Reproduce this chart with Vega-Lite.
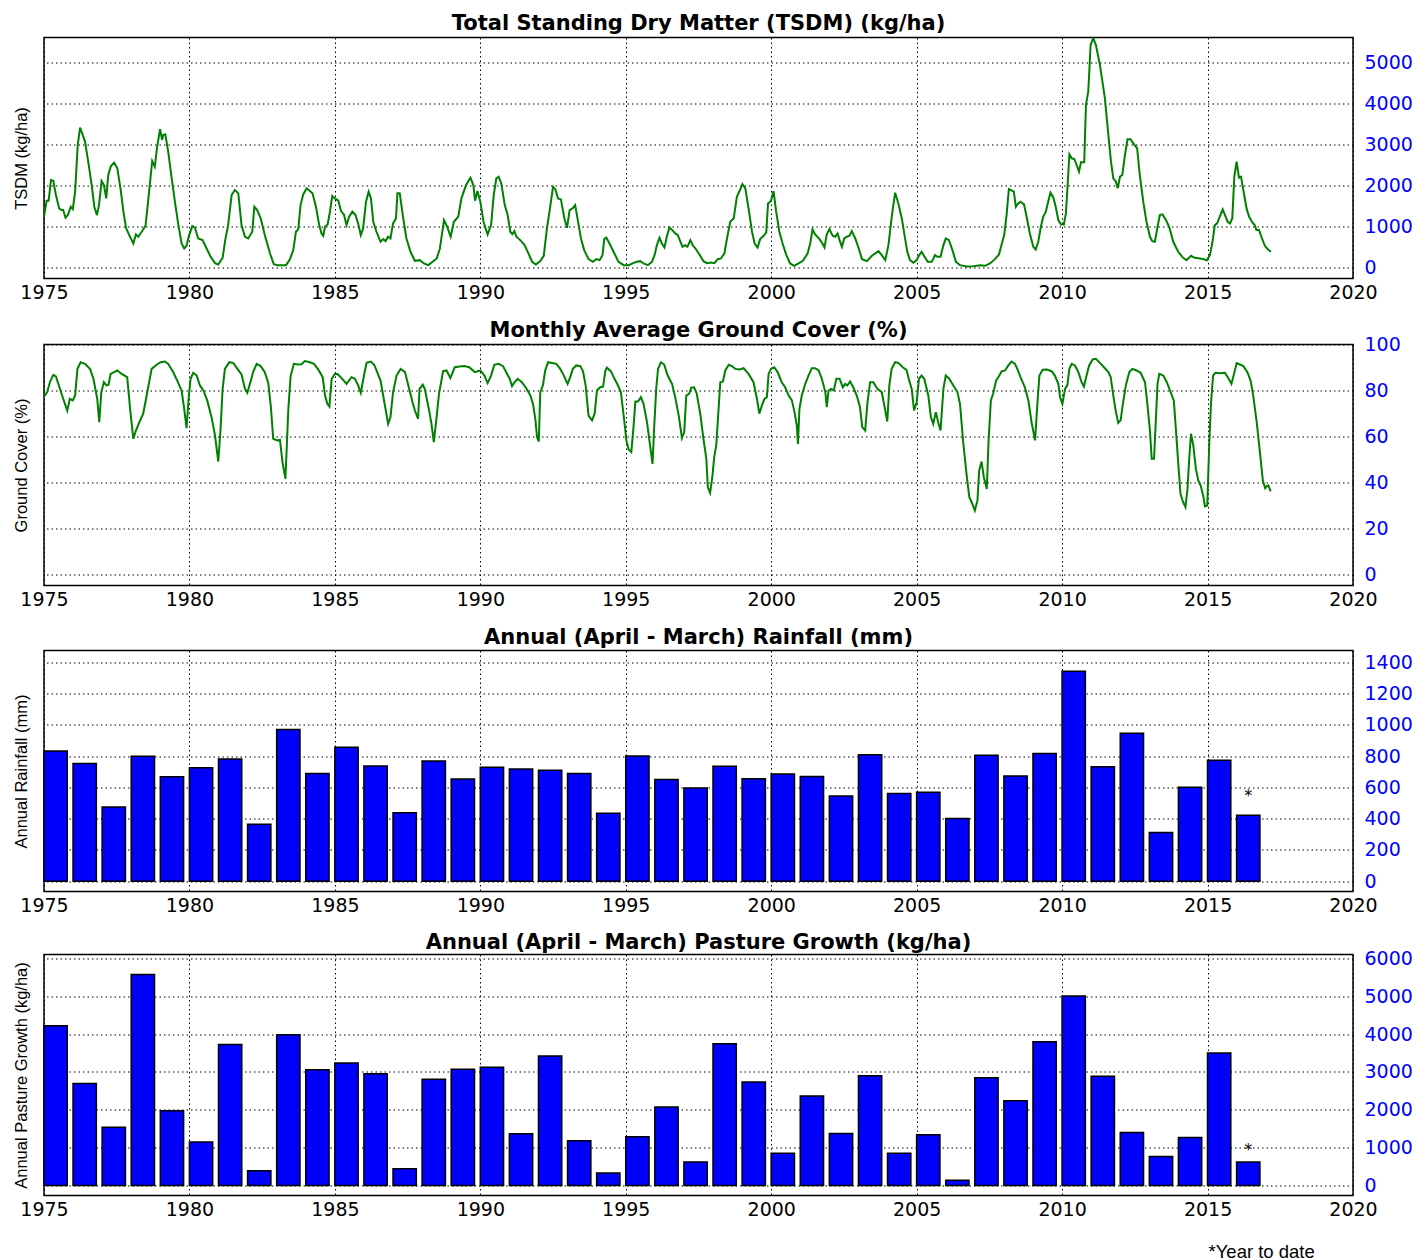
{
  "$schema": "https://vega.github.io/schema/vega-lite/v6.json",
  "background": "white",
  "padding": {"left": 12, "top": 11.5, "right": 5, "bottom": 0},
  "spacing": 15,
  "config": {
    "view": {"stroke": "black", "strokeWidth": 1.5},
    "scale": {"continuousPadding": 0},
    "title": {"font": "DejaVu Sans", "fontWeight": "bold", "fontSize": 21, "color": "black", "offset": 9, "baseline": "alphabetic", "frame": "group", "anchor": "middle"},
    "axis": {"grid": true, "gridColor": "black", "gridDash": [1.5, 3], "gridWidth": 1, "gridOpacity": 1, "ticks": false, "domain": false, "labelFlush": false, "labelOverlap": false, "labelFont": "DejaVu Sans", "labelFontSize": 19},
    "axisX": {"labelColor": "black", "labelPadding": 4.5, "format": "d"},
    "axisY": {"orient": "right", "labelColor": "#0000ff", "labelPadding": 11, "format": "d", "titleFont": "Liberation Sans", "titleFontWeight": "normal", "titleFontSize": 16.5, "titleColor": "black", "titleAngle": 270, "titleX": -1332, "titleY": 120.5, "titleAlign": "center", "titleBaseline": "middle"}
  },
  "datasets": {
    "tsdm": [
      {"t":1975.0,"v":1234},{"t":1975.09,"v":1626},{"t":1975.16,"v":1626},{"t":1975.24,"v":2130},{"t":1975.32,"v":2114},{"t":1975.41,"v":1764},{"t":1975.52,"v":1439},{"t":1975.6,"v":1398},{"t":1975.66,"v":1398},{"t":1975.74,"v":1211},{"t":1975.82,"v":1276},{"t":1975.92,"v":1480},{"t":1975.99,"v":1423},{"t":1976.07,"v":1845},{"t":1976.16,"v":2984},{"t":1976.24,"v":3406},{"t":1976.33,"v":3228},{"t":1976.41,"v":3065},{"t":1976.52,"v":2577},{"t":1976.64,"v":2008},{"t":1976.73,"v":1480},{"t":1976.82,"v":1276},{"t":1976.89,"v":1520},{"t":1976.98,"v":2106},{"t":1977.06,"v":2008},{"t":1977.14,"v":1683},{"t":1977.21,"v":2252},{"t":1977.3,"v":2472},{"t":1977.41,"v":2553},{"t":1977.52,"v":2415},{"t":1977.63,"v":1927},{"t":1977.73,"v":1358},{"t":1977.82,"v":967},{"t":1977.93,"v":789},{"t":1978.07,"v":585},{"t":1978.16,"v":805},{"t":1978.24,"v":748},{"t":1978.36,"v":870},{"t":1978.49,"v":1016},{"t":1978.59,"v":1683},{"t":1978.72,"v":2593},{"t":1978.81,"v":2455},{"t":1978.89,"v":2943},{"t":1978.99,"v":3366},{"t":1979.06,"v":3106},{"t":1979.1,"v":3228},{"t":1979.17,"v":3244},{"t":1979.27,"v":2821},{"t":1979.39,"v":2171},{"t":1979.5,"v":1602},{"t":1979.62,"v":1033},{"t":1979.73,"v":585},{"t":1979.82,"v":463},{"t":1979.9,"v":528},{"t":1979.99,"v":789},{"t":1980.1,"v":1008},{"t":1980.19,"v":967},{"t":1980.3,"v":707},{"t":1980.45,"v":667},{"t":1980.59,"v":463},{"t":1980.73,"v":260},{"t":1980.88,"v":106},{"t":1980.99,"v":73},{"t":1981.14,"v":236},{"t":1981.23,"v":667},{"t":1981.33,"v":1033},{"t":1981.45,"v":1764},{"t":1981.56,"v":1886},{"t":1981.68,"v":1805},{"t":1981.79,"v":1033},{"t":1981.91,"v":748},{"t":1982.02,"v":707},{"t":1982.16,"v":870},{"t":1982.23,"v":1480},{"t":1982.33,"v":1398},{"t":1982.45,"v":1195},{"t":1982.59,"v":789},{"t":1982.77,"v":341},{"t":1982.9,"v":81},{"t":1983.02,"v":57},{"t":1983.17,"v":57},{"t":1983.32,"v":57},{"t":1983.45,"v":195},{"t":1983.57,"v":423},{"t":1983.66,"v":870},{"t":1983.74,"v":927},{"t":1983.82,"v":1520},{"t":1983.91,"v":1780},{"t":1984.03,"v":1927},{"t":1984.14,"v":1862},{"t":1984.23,"v":1805},{"t":1984.35,"v":1480},{"t":1984.46,"v":1033},{"t":1984.54,"v":829},{"t":1984.6,"v":772},{"t":1984.66,"v":992},{"t":1984.75,"v":1049},{"t":1984.83,"v":1358},{"t":1984.91,"v":1740},{"t":1985.0,"v":1683},{"t":1985.12,"v":1626},{"t":1985.21,"v":1374},{"t":1985.31,"v":1293},{"t":1985.4,"v":1033},{"t":1985.49,"v":1236},{"t":1985.6,"v":1358},{"t":1985.71,"v":1276},{"t":1985.8,"v":1073},{"t":1985.89,"v":789},{"t":1985.97,"v":951},{"t":1986.07,"v":1602},{"t":1986.16,"v":1845},{"t":1986.24,"v":1683},{"t":1986.32,"v":1114},{"t":1986.43,"v":870},{"t":1986.57,"v":626},{"t":1986.66,"v":691},{"t":1986.74,"v":642},{"t":1986.83,"v":748},{"t":1986.91,"v":707},{"t":1987.0,"v":1073},{"t":1987.1,"v":1195},{"t":1987.15,"v":1805},{"t":1987.23,"v":1805},{"t":1987.35,"v":1195},{"t":1987.46,"v":707},{"t":1987.6,"v":382},{"t":1987.75,"v":163},{"t":1987.92,"v":179},{"t":1988.06,"v":98},{"t":1988.21,"v":57},{"t":1988.36,"v":138},{"t":1988.5,"v":220},{"t":1988.61,"v":463},{"t":1988.75,"v":1155},{"t":1988.86,"v":992},{"t":1988.98,"v":748},{"t":1989.09,"v":1114},{"t":1989.24,"v":1236},{"t":1989.35,"v":1683},{"t":1989.51,"v":2008},{"t":1989.66,"v":2187},{"t":1989.76,"v":2008},{"t":1989.82,"v":1626},{"t":1989.9,"v":1862},{"t":1990.0,"v":1602},{"t":1990.11,"v":1114},{"t":1990.25,"v":805},{"t":1990.37,"v":1033},{"t":1990.46,"v":1764},{"t":1990.55,"v":2171},{"t":1990.63,"v":2211},{"t":1990.72,"v":2049},{"t":1990.84,"v":1520},{"t":1990.94,"v":1276},{"t":1991.03,"v":870},{"t":1991.1,"v":813},{"t":1991.17,"v":886},{"t":1991.24,"v":748},{"t":1991.37,"v":667},{"t":1991.51,"v":561},{"t":1991.63,"v":382},{"t":1991.78,"v":138},{"t":1991.91,"v":73},{"t":1992.06,"v":154},{"t":1992.18,"v":285},{"t":1992.29,"v":951},{"t":1992.41,"v":1520},{"t":1992.5,"v":1967},{"t":1992.58,"v":1902},{"t":1992.67,"v":1683},{"t":1992.77,"v":1658},{"t":1992.89,"v":1195},{"t":1992.98,"v":967},{"t":1993.07,"v":1398},{"t":1993.17,"v":1439},{"t":1993.26,"v":1520},{"t":1993.34,"v":1195},{"t":1993.46,"v":707},{"t":1993.57,"v":423},{"t":1993.72,"v":203},{"t":1993.87,"v":138},{"t":1993.99,"v":203},{"t":1994.1,"v":179},{"t":1994.2,"v":301},{"t":1994.26,"v":691},{"t":1994.33,"v":732},{"t":1994.44,"v":585},{"t":1994.58,"v":382},{"t":1994.75,"v":138},{"t":1994.93,"v":57},{"t":1995.1,"v":57},{"t":1995.27,"v":114},{"t":1995.38,"v":138},{"t":1995.5,"v":154},{"t":1995.61,"v":98},{"t":1995.76,"v":57},{"t":1995.9,"v":138},{"t":1995.99,"v":301},{"t":1996.07,"v":545},{"t":1996.16,"v":724},{"t":1996.24,"v":585},{"t":1996.33,"v":488},{"t":1996.41,"v":748},{"t":1996.5,"v":976},{"t":1996.6,"v":911},{"t":1996.7,"v":829},{"t":1996.79,"v":789},{"t":1996.87,"v":642},{"t":1996.95,"v":504},{"t":1997.04,"v":545},{"t":1997.12,"v":504},{"t":1997.22,"v":667},{"t":1997.3,"v":545},{"t":1997.42,"v":439},{"t":1997.56,"v":285},{"t":1997.67,"v":154},{"t":1997.79,"v":106},{"t":1997.93,"v":122},{"t":1998.05,"v":106},{"t":1998.16,"v":203},{"t":1998.27,"v":220},{"t":1998.39,"v":341},{"t":1998.48,"v":707},{"t":1998.59,"v":1114},{"t":1998.71,"v":1195},{"t":1998.82,"v":1724},{"t":1998.91,"v":1862},{"t":1999.01,"v":2033},{"t":1999.11,"v":1927},{"t":1999.22,"v":1439},{"t":1999.34,"v":870},{"t":1999.43,"v":585},{"t":1999.53,"v":488},{"t":1999.62,"v":691},{"t":1999.74,"v":772},{"t":1999.83,"v":854},{"t":1999.89,"v":1561},{"t":1999.99,"v":1618},{"t":2000.08,"v":1862},{"t":2000.17,"v":1358},{"t":2000.28,"v":870},{"t":2000.39,"v":585},{"t":2000.52,"v":301},{"t":2000.65,"v":98},{"t":2000.79,"v":41},{"t":2000.94,"v":98},{"t":2001.09,"v":163},{"t":2001.25,"v":341},{"t":2001.34,"v":585},{"t":2001.42,"v":927},{"t":2001.51,"v":805},{"t":2001.66,"v":691},{"t":2001.76,"v":585},{"t":2001.83,"v":488},{"t":2001.91,"v":805},{"t":2002.0,"v":935},{"t":2002.11,"v":772},{"t":2002.2,"v":748},{"t":2002.28,"v":829},{"t":2002.35,"v":667},{"t":2002.43,"v":504},{"t":2002.51,"v":707},{"t":2002.6,"v":748},{"t":2002.69,"v":772},{"t":2002.77,"v":886},{"t":2002.89,"v":707},{"t":2003.0,"v":480},{"t":2003.12,"v":203},{"t":2003.29,"v":154},{"t":2003.46,"v":285},{"t":2003.69,"v":398},{"t":2003.8,"v":301},{"t":2003.92,"v":179},{"t":2004.03,"v":545},{"t":2004.15,"v":1276},{"t":2004.26,"v":1821},{"t":2004.37,"v":1561},{"t":2004.49,"v":1195},{"t":2004.6,"v":707},{"t":2004.68,"v":380},{"t":2004.77,"v":179},{"t":2004.89,"v":114},{"t":2005.0,"v":179},{"t":2005.09,"v":301},{"t":2005.17,"v":382},{"t":2005.26,"v":276},{"t":2005.38,"v":138},{"t":2005.52,"v":138},{"t":2005.63,"v":301},{"t":2005.71,"v":260},{"t":2005.82,"v":260},{"t":2005.92,"v":545},{"t":2006.0,"v":707},{"t":2006.11,"v":667},{"t":2006.23,"v":423},{"t":2006.35,"v":138},{"t":2006.49,"v":57},{"t":2006.72,"v":24},{"t":2006.95,"v":33},{"t":2007.18,"v":57},{"t":2007.35,"v":41},{"t":2007.52,"v":98},{"t":2007.69,"v":203},{"t":2007.83,"v":317},{"t":2007.92,"v":561},{"t":2008.01,"v":789},{"t":2008.09,"v":1276},{"t":2008.17,"v":1911},{"t":2008.26,"v":1878},{"t":2008.34,"v":1846},{"t":2008.41,"v":1480},{"t":2008.49,"v":1561},{"t":2008.57,"v":1602},{"t":2008.69,"v":1537},{"t":2008.78,"v":1236},{"t":2008.89,"v":829},{"t":2009.01,"v":504},{"t":2009.09,"v":439},{"t":2009.18,"v":626},{"t":2009.27,"v":992},{"t":2009.35,"v":1236},{"t":2009.44,"v":1358},{"t":2009.52,"v":1602},{"t":2009.6,"v":1821},{"t":2009.7,"v":1699},{"t":2009.78,"v":1480},{"t":2009.87,"v":1155},{"t":2009.96,"v":1049},{"t":2010.06,"v":1049},{"t":2010.13,"v":1317},{"t":2010.19,"v":2008},{"t":2010.25,"v":2756},{"t":2010.33,"v":2659},{"t":2010.42,"v":2642},{"t":2010.5,"v":2496},{"t":2010.58,"v":2333},{"t":2010.65,"v":2561},{"t":2010.76,"v":2561},{"t":2010.82,"v":3959},{"t":2010.9,"v":4285},{"t":2010.98,"v":5423},{"t":2011.07,"v":5585},{"t":2011.16,"v":5423},{"t":2011.3,"v":4935},{"t":2011.47,"v":4122},{"t":2011.59,"v":3228},{"t":2011.68,"v":2577},{"t":2011.76,"v":2171},{"t":2011.85,"v":2089},{"t":2011.91,"v":1927},{"t":2011.99,"v":2211},{"t":2012.07,"v":2252},{"t":2012.16,"v":2740},{"t":2012.25,"v":3122},{"t":2012.35,"v":3122},{"t":2012.45,"v":3024},{"t":2012.58,"v":2902},{"t":2012.67,"v":2252},{"t":2012.79,"v":1602},{"t":2012.9,"v":1114},{"t":2013.02,"v":748},{"t":2013.1,"v":642},{"t":2013.19,"v":626},{"t":2013.27,"v":951},{"t":2013.36,"v":1276},{"t":2013.45,"v":1293},{"t":2013.57,"v":1155},{"t":2013.68,"v":992},{"t":2013.82,"v":626},{"t":2013.99,"v":382},{"t":2014.16,"v":236},{"t":2014.28,"v":179},{"t":2014.43,"v":285},{"t":2014.56,"v":236},{"t":2014.74,"v":220},{"t":2014.87,"v":203},{"t":2014.97,"v":171},{"t":2015.08,"v":301},{"t":2015.17,"v":626},{"t":2015.25,"v":1033},{"t":2015.33,"v":1073},{"t":2015.42,"v":1236},{"t":2015.52,"v":1415},{"t":2015.6,"v":1276},{"t":2015.69,"v":1114},{"t":2015.77,"v":1073},{"t":2015.85,"v":1195},{"t":2015.92,"v":2211},{"t":2016.0,"v":2577},{"t":2016.08,"v":2187},{"t":2016.15,"v":2211},{"t":2016.23,"v":1886},{"t":2016.34,"v":1439},{"t":2016.43,"v":1236},{"t":2016.54,"v":1098},{"t":2016.62,"v":1033},{"t":2016.68,"v":911},{"t":2016.77,"v":911},{"t":2016.85,"v":748},{"t":2016.97,"v":528},{"t":2017.08,"v":439},{"t":2017.18,"v":382}
    ],
    "cover": [
      {"t":1975.02,"v":77.8},{"t":1975.11,"v":79.3},{"t":1975.21,"v":83.9},{"t":1975.32,"v":86.8},{"t":1975.41,"v":86.1},{"t":1975.53,"v":81.4},{"t":1975.66,"v":76.4},{"t":1975.8,"v":71.3},{"t":1975.89,"v":76.4},{"t":1975.99,"v":75.7},{"t":1976.07,"v":77.8},{"t":1976.15,"v":89.4},{"t":1976.26,"v":92.3},{"t":1976.41,"v":91.6},{"t":1976.58,"v":89.4},{"t":1976.7,"v":85.1},{"t":1976.83,"v":76.4},{"t":1976.9,"v":66.2},{"t":1976.97,"v":79.3},{"t":1977.06,"v":83.6},{"t":1977.15,"v":82.2},{"t":1977.22,"v":82.5},{"t":1977.29,"v":87.2},{"t":1977.41,"v":88.0},{"t":1977.52,"v":88.7},{"t":1977.67,"v":87.2},{"t":1977.86,"v":85.8},{"t":1977.96,"v":72.0},{"t":1978.07,"v":59.0},{"t":1978.16,"v":62.6},{"t":1978.28,"v":66.2},{"t":1978.41,"v":69.9},{"t":1978.53,"v":77.8},{"t":1978.7,"v":89.4},{"t":1978.87,"v":91.2},{"t":1979.01,"v":92.3},{"t":1979.16,"v":92.6},{"t":1979.27,"v":91.6},{"t":1979.44,"v":88.0},{"t":1979.58,"v":84.3},{"t":1979.73,"v":80.0},{"t":1979.82,"v":72.0},{"t":1979.9,"v":63.6},{"t":1979.98,"v":77.8},{"t":1980.04,"v":85.1},{"t":1980.13,"v":87.7},{"t":1980.25,"v":86.5},{"t":1980.36,"v":82.2},{"t":1980.48,"v":80.0},{"t":1980.61,"v":75.7},{"t":1980.76,"v":68.4},{"t":1980.88,"v":60.4},{"t":1980.99,"v":49.1},{"t":1981.07,"v":63.3},{"t":1981.14,"v":80.7},{"t":1981.22,"v":89.4},{"t":1981.37,"v":92.3},{"t":1981.51,"v":91.9},{"t":1981.65,"v":89.4},{"t":1981.79,"v":87.0},{"t":1981.91,"v":80.7},{"t":1981.99,"v":79.0},{"t":1982.08,"v":82.9},{"t":1982.19,"v":88.0},{"t":1982.31,"v":91.6},{"t":1982.45,"v":90.6},{"t":1982.59,"v":88.0},{"t":1982.71,"v":83.3},{"t":1982.8,"v":72.8},{"t":1982.88,"v":59.0},{"t":1982.94,"v":58.7},{"t":1983.02,"v":58.3},{"t":1983.11,"v":58.6},{"t":1983.2,"v":48.8},{"t":1983.3,"v":41.6},{"t":1983.4,"v":72.0},{"t":1983.48,"v":86.5},{"t":1983.59,"v":91.6},{"t":1983.74,"v":91.3},{"t":1983.85,"v":91.4},{"t":1983.97,"v":92.8},{"t":1984.14,"v":92.3},{"t":1984.28,"v":91.6},{"t":1984.43,"v":89.1},{"t":1984.58,"v":85.8},{"t":1984.66,"v":77.8},{"t":1984.74,"v":74.2},{"t":1984.81,"v":73.0},{"t":1984.89,"v":85.1},{"t":1985.0,"v":87.2},{"t":1985.09,"v":87.2},{"t":1985.23,"v":85.4},{"t":1985.4,"v":82.9},{"t":1985.57,"v":85.8},{"t":1985.69,"v":85.1},{"t":1985.8,"v":82.2},{"t":1985.89,"v":79.0},{"t":1986.0,"v":86.5},{"t":1986.09,"v":92.0},{"t":1986.24,"v":92.6},{"t":1986.35,"v":91.2},{"t":1986.43,"v":88.7},{"t":1986.57,"v":84.3},{"t":1986.7,"v":74.9},{"t":1986.83,"v":65.5},{"t":1986.91,"v":68.4},{"t":1987.0,"v":79.3},{"t":1987.12,"v":86.5},{"t":1987.26,"v":89.4},{"t":1987.41,"v":88.0},{"t":1987.54,"v":81.4},{"t":1987.67,"v":74.9},{"t":1987.75,"v":71.3},{"t":1987.86,"v":67.7},{"t":1987.91,"v":80.7},{"t":1988.02,"v":82.5},{"t":1988.09,"v":80.7},{"t":1988.24,"v":71.3},{"t":1988.32,"v":65.5},{"t":1988.4,"v":57.5},{"t":1988.49,"v":67.7},{"t":1988.58,"v":78.6},{"t":1988.72,"v":88.4},{"t":1988.84,"v":88.7},{"t":1988.97,"v":85.4},{"t":1989.12,"v":90.1},{"t":1989.29,"v":90.4},{"t":1989.45,"v":90.6},{"t":1989.62,"v":90.1},{"t":1989.81,"v":88.0},{"t":1990.0,"v":88.7},{"t":1990.14,"v":86.5},{"t":1990.25,"v":83.2},{"t":1990.37,"v":86.5},{"t":1990.48,"v":91.2},{"t":1990.63,"v":91.6},{"t":1990.78,"v":90.6},{"t":1990.92,"v":87.2},{"t":1991.01,"v":85.1},{"t":1991.09,"v":81.9},{"t":1991.18,"v":83.6},{"t":1991.28,"v":85.1},{"t":1991.43,"v":83.6},{"t":1991.58,"v":81.0},{"t":1991.72,"v":77.8},{"t":1991.81,"v":74.2},{"t":1991.89,"v":67.7},{"t":1991.95,"v":59.7},{"t":1992.01,"v":57.8},{"t":1992.06,"v":79.3},{"t":1992.15,"v":82.2},{"t":1992.23,"v":88.7},{"t":1992.33,"v":92.3},{"t":1992.46,"v":92.0},{"t":1992.61,"v":91.6},{"t":1992.73,"v":89.7},{"t":1992.86,"v":86.8},{"t":1993.0,"v":82.9},{"t":1993.09,"v":85.8},{"t":1993.18,"v":89.4},{"t":1993.3,"v":90.9},{"t":1993.44,"v":90.6},{"t":1993.53,"v":88.3},{"t":1993.62,"v":82.2},{"t":1993.72,"v":69.1},{"t":1993.84,"v":67.0},{"t":1993.93,"v":69.9},{"t":1994.01,"v":80.0},{"t":1994.12,"v":81.4},{"t":1994.22,"v":81.7},{"t":1994.3,"v":88.7},{"t":1994.35,"v":89.9},{"t":1994.49,"v":88.3},{"t":1994.6,"v":85.4},{"t":1994.72,"v":82.5},{"t":1994.83,"v":79.3},{"t":1994.9,"v":72.0},{"t":1994.96,"v":65.5},{"t":1995.02,"v":58.3},{"t":1995.1,"v":54.3},{"t":1995.19,"v":53.2},{"t":1995.27,"v":64.8},{"t":1995.33,"v":75.2},{"t":1995.42,"v":75.2},{"t":1995.52,"v":77.1},{"t":1995.61,"v":74.2},{"t":1995.73,"v":66.2},{"t":1995.82,"v":57.5},{"t":1995.92,"v":48.1},{"t":1995.98,"v":64.8},{"t":1996.05,"v":81.4},{"t":1996.11,"v":89.4},{"t":1996.21,"v":92.3},{"t":1996.32,"v":91.3},{"t":1996.44,"v":86.5},{"t":1996.59,"v":82.9},{"t":1996.7,"v":77.1},{"t":1996.82,"v":69.1},{"t":1996.93,"v":59.3},{"t":1997.01,"v":61.9},{"t":1997.08,"v":77.8},{"t":1997.18,"v":78.6},{"t":1997.25,"v":81.2},{"t":1997.35,"v":81.4},{"t":1997.44,"v":78.6},{"t":1997.56,"v":69.9},{"t":1997.67,"v":59.0},{"t":1997.77,"v":50.3},{"t":1997.82,"v":38.0},{"t":1997.9,"v":35.5},{"t":1997.98,"v":43.0},{"t":1998.04,"v":51.0},{"t":1998.11,"v":56.1},{"t":1998.19,"v":72.0},{"t":1998.25,"v":83.6},{"t":1998.34,"v":83.9},{"t":1998.42,"v":88.7},{"t":1998.54,"v":91.2},{"t":1998.65,"v":90.6},{"t":1998.76,"v":89.4},{"t":1998.91,"v":89.1},{"t":1999.05,"v":89.7},{"t":1999.22,"v":87.2},{"t":1999.39,"v":83.6},{"t":1999.51,"v":76.4},{"t":1999.59,"v":69.9},{"t":1999.68,"v":73.5},{"t":1999.77,"v":76.4},{"t":1999.85,"v":77.1},{"t":1999.91,"v":87.2},{"t":1999.99,"v":89.4},{"t":2000.1,"v":90.1},{"t":2000.22,"v":88.0},{"t":2000.36,"v":83.6},{"t":2000.48,"v":81.4},{"t":2000.6,"v":77.8},{"t":2000.71,"v":75.7},{"t":2000.8,"v":70.6},{"t":2000.88,"v":64.8},{"t":2000.92,"v":56.8},{"t":2000.97,"v":72.0},{"t":2001.05,"v":77.8},{"t":2001.17,"v":82.9},{"t":2001.28,"v":86.5},{"t":2001.4,"v":89.7},{"t":2001.51,"v":89.7},{"t":2001.63,"v":88.7},{"t":2001.74,"v":85.1},{"t":2001.86,"v":79.3},{"t":2001.91,"v":72.8},{"t":2001.97,"v":80.0},{"t":2002.06,"v":80.7},{"t":2002.15,"v":80.0},{"t":2002.24,"v":85.1},{"t":2002.35,"v":85.1},{"t":2002.46,"v":81.4},{"t":2002.54,"v":82.9},{"t":2002.62,"v":82.2},{"t":2002.71,"v":83.9},{"t":2002.82,"v":81.4},{"t":2002.94,"v":77.8},{"t":2003.05,"v":72.8},{"t":2003.13,"v":64.1},{"t":2003.23,"v":62.6},{"t":2003.31,"v":74.9},{"t":2003.4,"v":83.6},{"t":2003.51,"v":83.6},{"t":2003.65,"v":80.7},{"t":2003.8,"v":79.3},{"t":2003.91,"v":72.0},{"t":2003.99,"v":66.5},{"t":2004.06,"v":82.2},{"t":2004.14,"v":89.4},{"t":2004.26,"v":92.3},{"t":2004.37,"v":92.0},{"t":2004.52,"v":90.1},{"t":2004.65,"v":89.0},{"t":2004.74,"v":84.5},{"t":2004.83,"v":80.7},{"t":2004.91,"v":71.3},{"t":2005.0,"v":74.9},{"t":2005.08,"v":85.1},{"t":2005.17,"v":86.5},{"t":2005.26,"v":85.1},{"t":2005.4,"v":77.8},{"t":2005.49,"v":68.4},{"t":2005.57,"v":65.5},{"t":2005.66,"v":70.6},{"t":2005.74,"v":66.2},{"t":2005.82,"v":62.6},{"t":2005.92,"v":80.7},{"t":2006.0,"v":86.5},{"t":2006.12,"v":85.1},{"t":2006.26,"v":82.2},{"t":2006.4,"v":79.3},{"t":2006.49,"v":74.2},{"t":2006.6,"v":57.5},{"t":2006.72,"v":43.0},{"t":2006.81,"v":33.6},{"t":2006.89,"v":31.4},{"t":2007.0,"v":27.8},{"t":2007.09,"v":32.2},{"t":2007.15,"v":45.2},{"t":2007.23,"v":49.1},{"t":2007.31,"v":42.3},{"t":2007.41,"v":37.2},{"t":2007.47,"v":57.5},{"t":2007.55,"v":75.7},{"t":2007.63,"v":78.6},{"t":2007.73,"v":84.3},{"t":2007.84,"v":86.5},{"t":2007.92,"v":88.3},{"t":2008.04,"v":88.7},{"t":2008.15,"v":90.9},{"t":2008.26,"v":92.6},{"t":2008.38,"v":91.6},{"t":2008.46,"v":89.4},{"t":2008.57,"v":85.8},{"t":2008.72,"v":81.4},{"t":2008.84,"v":75.7},{"t":2008.95,"v":66.2},{"t":2009.07,"v":58.3},{"t":2009.15,"v":74.2},{"t":2009.22,"v":86.5},{"t":2009.33,"v":89.0},{"t":2009.47,"v":89.1},{"t":2009.64,"v":88.4},{"t":2009.75,"v":86.5},{"t":2009.87,"v":82.9},{"t":2009.93,"v":77.1},{"t":2010.01,"v":74.2},{"t":2010.1,"v":80.7},{"t":2010.18,"v":82.2},{"t":2010.25,"v":89.4},{"t":2010.33,"v":91.6},{"t":2010.44,"v":90.9},{"t":2010.56,"v":88.0},{"t":2010.67,"v":83.6},{"t":2010.75,"v":81.7},{"t":2010.84,"v":86.5},{"t":2010.93,"v":90.9},{"t":2011.05,"v":93.5},{"t":2011.16,"v":93.8},{"t":2011.3,"v":92.0},{"t":2011.44,"v":90.1},{"t":2011.59,"v":88.0},{"t":2011.67,"v":85.8},{"t":2011.76,"v":77.8},{"t":2011.85,"v":70.6},{"t":2011.93,"v":65.9},{"t":2012.01,"v":67.0},{"t":2012.09,"v":74.2},{"t":2012.19,"v":82.2},{"t":2012.31,"v":88.0},{"t":2012.42,"v":89.4},{"t":2012.56,"v":88.7},{"t":2012.7,"v":87.7},{"t":2012.85,"v":83.6},{"t":2012.93,"v":74.2},{"t":2013.02,"v":62.6},{"t":2013.08,"v":50.3},{"t":2013.16,"v":50.3},{"t":2013.23,"v":69.1},{"t":2013.28,"v":82.9},{"t":2013.34,"v":87.2},{"t":2013.48,"v":86.5},{"t":2013.6,"v":83.6},{"t":2013.73,"v":79.3},{"t":2013.84,"v":75.7},{"t":2013.91,"v":63.3},{"t":2013.99,"v":48.8},{"t":2014.07,"v":35.1},{"t":2014.16,"v":31.4},{"t":2014.24,"v":29.3},{"t":2014.31,"v":37.2},{"t":2014.37,"v":50.3},{"t":2014.43,"v":61.2},{"t":2014.51,"v":56.1},{"t":2014.6,"v":45.9},{"t":2014.68,"v":40.9},{"t":2014.77,"v":38.4},{"t":2014.85,"v":34.3},{"t":2014.91,"v":29.6},{"t":2014.99,"v":30.0},{"t":2015.06,"v":57.5},{"t":2015.12,"v":74.9},{"t":2015.19,"v":86.5},{"t":2015.27,"v":87.7},{"t":2015.42,"v":87.5},{"t":2015.6,"v":87.7},{"t":2015.71,"v":85.4},{"t":2015.82,"v":82.9},{"t":2015.91,"v":87.2},{"t":2016.0,"v":91.9},{"t":2016.11,"v":91.3},{"t":2016.23,"v":90.6},{"t":2016.37,"v":88.0},{"t":2016.48,"v":84.3},{"t":2016.57,"v":77.8},{"t":2016.69,"v":66.2},{"t":2016.8,"v":53.2},{"t":2016.9,"v":40.9},{"t":2016.98,"v":37.5},{"t":2017.03,"v":38.3},{"t":2017.09,"v":38.7},{"t":2017.17,"v":36.1}
    ],
    "rain": [
      {"year":1975,"v":833,"note":""},{"year":1976,"v":752,"note":""},{"year":1977,"v":475,"note":""},{"year":1978,"v":799,"note":""},{"year":1979,"v":667,"note":""},{"year":1980,"v":725,"note":""},{"year":1981,"v":782,"note":""},{"year":1982,"v":364,"note":""},{"year":1983,"v":970,"note":""},{"year":1984,"v":688,"note":""},{"year":1985,"v":857,"note":""},{"year":1986,"v":737,"note":""},{"year":1987,"v":437,"note":""},{"year":1988,"v":769,"note":""},{"year":1989,"v":654,"note":""},{"year":1990,"v":729,"note":""},{"year":1991,"v":718,"note":""},{"year":1992,"v":710,"note":""},{"year":1993,"v":688,"note":""},{"year":1994,"v":435,"note":""},{"year":1995,"v":800,"note":""},{"year":1996,"v":650,"note":""},{"year":1997,"v":595,"note":""},{"year":1998,"v":735,"note":""},{"year":1999,"v":655,"note":""},{"year":2000,"v":685,"note":""},{"year":2001,"v":670,"note":""},{"year":2002,"v":545,"note":""},{"year":2003,"v":808,"note":""},{"year":2004,"v":560,"note":""},{"year":2005,"v":568,"note":""},{"year":2006,"v":400,"note":""},{"year":2007,"v":805,"note":""},{"year":2008,"v":673,"note":""},{"year":2009,"v":816,"note":""},{"year":2010,"v":1343,"note":""},{"year":2011,"v":731,"note":""},{"year":2012,"v":946,"note":""},{"year":2013,"v":311,"note":""},{"year":2014,"v":601,"note":""},{"year":2015,"v":773,"note":""},{"year":2016,"v":422,"note":"*"}
    ],
    "growth": [
      {"year":1975,"v":4221,"note":""},{"year":1976,"v":2697,"note":""},{"year":1977,"v":1540,"note":""},{"year":1978,"v":5575,"note":""},{"year":1979,"v":1972,"note":""},{"year":1980,"v":1150,"note":""},{"year":1981,"v":3725,"note":""},{"year":1982,"v":388,"note":""},{"year":1983,"v":3982,"note":""},{"year":1984,"v":3061,"note":""},{"year":1985,"v":3238,"note":""},{"year":1986,"v":2955,"note":""},{"year":1987,"v":442,"note":""},{"year":1988,"v":2805,"note":""},{"year":1989,"v":3070,"note":""},{"year":1990,"v":3123,"note":""},{"year":1991,"v":1365,"note":""},{"year":1992,"v":3422,"note":""},{"year":1993,"v":1185,"note":""},{"year":1994,"v":328,"note":""},{"year":1995,"v":1285,"note":""},{"year":1996,"v":2076,"note":""},{"year":1997,"v":623,"note":""},{"year":1998,"v":3745,"note":""},{"year":1999,"v":2738,"note":""},{"year":2000,"v":852,"note":""},{"year":2001,"v":2362,"note":""},{"year":2002,"v":1374,"note":""},{"year":2003,"v":2897,"note":""},{"year":2004,"v":852,"note":""},{"year":2005,"v":1340,"note":""},{"year":2006,"v":135,"note":""},{"year":2007,"v":2845,"note":""},{"year":2008,"v":2238,"note":""},{"year":2009,"v":3796,"note":""},{"year":2010,"v":5007,"note":""},{"year":2011,"v":2884,"note":""},{"year":2012,"v":1397,"note":""},{"year":2013,"v":769,"note":""},{"year":2014,"v":1265,"note":""},{"year":2015,"v":3504,"note":""},{"year":2016,"v":618,"note":"*"}
    ]
  },
  "vconcat": [
    {
      "width": 1309, "height": 241,
      "title": {"text": "Total Standing Dry Matter (TSDM) (kg/ha)", "offset": 4},
      "data": {"name": "tsdm"},
      "mark": {"type": "line", "color": "#008000", "strokeWidth": 2, "clip": true},
      "encoding": {
        "x": {"field": "t", "type": "quantitative", "scale": {"domain": [1975, 2020], "nice": false, "zero": false, "padding": 0}, "axis": {"title": null, "values": [1975, 1980, 1985, 1990, 1995, 2000, 2005, 2010, 2015, 2020]}},
        "y": {"field": "v", "type": "quantitative", "scale": {"domain": [-268, 5600], "nice": false, "zero": false, "padding": 0}, "axis": {"values": [0, 1000, 2000, 3000, 4000, 5000], "title": "TSDM (kg/ha)"}}
      }
    },
    {
      "width": 1309, "height": 241,
      "title": {"text": "Monthly Average Ground Cover (%)", "offset": -5},
      "data": {"name": "cover"},
      "mark": {"type": "line", "color": "#008000", "strokeWidth": 2, "clip": true},
      "encoding": {
        "x": {"field": "t", "type": "quantitative", "scale": {"domain": [1975, 2020], "nice": false, "zero": false, "padding": 0}, "axis": {"title": null, "values": [1975, 1980, 1985, 1990, 1995, 2000, 2005, 2010, 2015, 2020]}},
        "y": {"field": "v", "type": "quantitative", "scale": {"domain": [-4.8, 100], "nice": false, "zero": false, "padding": 0}, "axis": {"values": [0, 20, 40, 60, 80, 100], "title": "Ground Cover (%)"}}
      }
    },
    {
      "width": 1309, "height": 241,
      "title": {"text": "Annual (April - March) Rainfall (mm)", "offset": -4},
      "data": {"name": "rain"},
      "encoding": {
        "x": {"field": "year", "type": "quantitative", "scale": {"domain": [1975, 2020], "nice": false, "zero": false, "padding": 0}, "axis": {"title": null, "values": [1975, 1980, 1985, 1990, 1995, 2000, 2005, 2010, 2015, 2020]}},
        "y": {"field": "v", "type": "quantitative", "scale": {"domain": [-66, 1475], "nice": false, "zero": false, "padding": 0}, "axis": {"values": [0, 200, 400, 600, 800, 1000, 1200, 1400], "title": "Annual Rainfall (mm)"}}
      },
      "layer": [
        {"mark": {"type": "bar", "fill": "#0000ff", "stroke": "black", "strokeWidth": 1.5, "width": 23.3, "xOffset": 11.6}},
        {"mark": {"type": "text", "dx": 11.6, "dy": -19, "baseline": "middle", "align": "center", "font": "DejaVu Sans", "fontSize": 16, "color": "black"}, "encoding": {"text": {"field": "note"}}}
      ]
    },
    {
      "width": 1309, "height": 241,
      "title": {"text": "Annual (April - March) Pasture Growth (kg/ha)", "offset": -4},
      "data": {"name": "growth"},
      "encoding": {
        "x": {"field": "year", "type": "quantitative", "scale": {"domain": [1975, 2020], "nice": false, "zero": false, "padding": 0}, "axis": {"values": [1975, 1980, 1985, 1990, 1995, 2000, 2005, 2010, 2015, 2020], "title": "*Year to date", "titleFont": "Liberation Sans", "titleFontWeight": "normal", "titleFontSize": 18.5, "titleColor": "black", "titleX": 1164, "titleY": 62, "titleAlign": "left", "titleBaseline": "alphabetic"}},
        "y": {"field": "v", "type": "quantitative", "scale": {"domain": [-265, 6105], "nice": false, "zero": false, "padding": 0}, "axis": {"values": [0, 1000, 2000, 3000, 4000, 5000, 6000], "title": "Annual Pasture Growth (kg/ha)"}}
      },
      "layer": [
        {"mark": {"type": "bar", "fill": "#0000ff", "stroke": "black", "strokeWidth": 1.5, "width": 23.3, "xOffset": 11.6}},
        {"mark": {"type": "text", "dx": 11.6, "dy": -12, "baseline": "middle", "align": "center", "font": "DejaVu Sans", "fontSize": 16, "color": "black"}, "encoding": {"text": {"field": "note"}}}
      ]
    }
  ]
}
